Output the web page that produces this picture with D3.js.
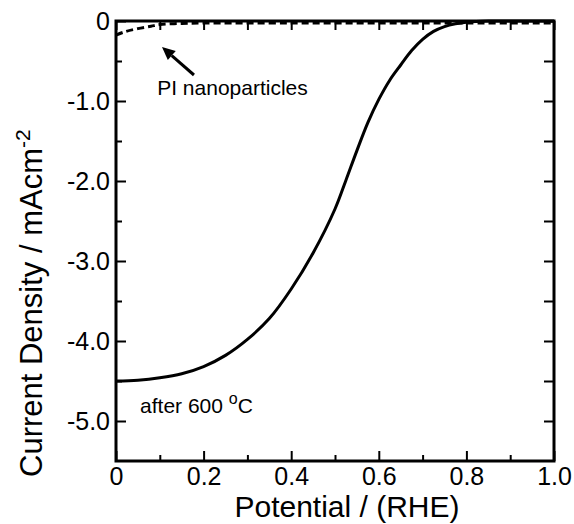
<!DOCTYPE html>
<html>
<head>
<meta charset="utf-8">
<script src="https://cdn.jsdelivr.net/npm/d3@7"></script>
<style>
	body { margin: 0; background: #fff; }
	text { font-family: "Liberation Sans", Arial, sans-serif; fill: #000; }
</style>
</head>
<body>
<svg id="chart" width="574" height="524"></svg>
<script>
// solid curve (after 600 C)
var potential = [0, 0.05, 0.1, 0.15, 0.2, 0.25, 0.3, 0.35, 0.4, 0.45, 0.5, 0.525, 0.55, 0.575, 0.6, 0.625, 0.65, 0.675, 0.7, 0.725, 0.75, 0.775, 0.8, 0.85, 0.9, 0.95, 1.0];
var currentAfter = [-4.5, -4.49, -4.46, -4.41, -4.32, -4.18, -3.98, -3.72, -3.35, -2.9, -2.35, -1.99, -1.62, -1.27, -0.98, -0.74, -0.55, -0.37, -0.23, -0.13, -0.07, -0.035, -0.015, 0, 0, 0, 0];

// dashed curve (PI nanoparticles)
var potentialPI = [0, 0.02, 0.05, 0.08, 0.1, 0.15, 0.2, 0.4, 0.6, 0.8, 1.0];
var currentPI = [-0.15, -0.11, -0.07, -0.04, -0.02, -0.005, 0, 0, 0, 0, 0];

var xMajor = [0, 0.2, 0.4, 0.6, 0.8, 1.0];
var xMajorLabels = ["0", "0.2", "0.4", "0.6", "0.8", "1.0"];
var xMinor = [0.1, 0.3, 0.5, 0.7, 0.9];
var yMajor = [0, -1, -2, -3, -4, -5];
var yMajorLabels = ["0", "-1.0", "-2.0", "-3.0", "-4.0", "-5.0"];
var yMinor = [-0.5, -1.5, -2.5, -3.5, -4.5];

var margin = {top: 21, right: 20, bottom: 63, left: 116};
var width = 574 - margin.left - margin.right;
var height = 524 - margin.top - margin.bottom;

var svg = d3.select("#chart");
var g = svg.append("g")
	.attr("transform", "translate(" + margin.left + "," + margin.top + ")");

var x = d3.scaleLinear().domain([0, 1.0]).range([0, width]);
var y = d3.scaleLinear().domain([-5.5, 0]).range([height, 0]);

function styleAxis(sel){
	sel.select(".domain").remove();
	sel.selectAll(".tick line").attr("stroke", "#000").attr("stroke-width", 2);
	sel.selectAll(".tick text")
		.style("font-family", "'Liberation Sans', Arial, sans-serif")
		.style("font-size", "25px")
		.attr("fill", "#000");
}

// bottom axis: labelled majors + short minors
g.append("g")
	.attr("transform", "translate(0," + height + ")")
	.call(d3.axisBottom(x).tickValues(xMajor).tickSize(-10).tickPadding(6)
		.tickFormat(function(d, i){ return xMajorLabels[i]; }))
	.call(styleAxis);
g.append("g")
	.attr("transform", "translate(0," + height + ")")
	.call(d3.axisBottom(x).tickValues(xMinor).tickSize(-6).tickFormat(""))
	.call(styleAxis);

// top axis
g.append("g")
	.call(d3.axisTop(x).tickValues(xMajor.concat(xMinor)).tickSize(-9).tickFormat(""))
	.call(styleAxis);

// left axis
g.append("g")
	.call(d3.axisLeft(y).tickValues(yMajor).tickSize(-10).tickPadding(6)
		.tickFormat(function(d, i){ return yMajorLabels[i]; }))
	.call(styleAxis);
g.append("g")
	.call(d3.axisLeft(y).tickValues(yMinor).tickSize(-6).tickFormat(""))
	.call(styleAxis);

// right axis
g.append("g")
	.attr("transform", "translate(" + width + ",0)")
	.call(d3.axisRight(y).tickValues(yMajor.concat(yMinor)).tickSize(-10).tickFormat(""))
	.call(styleAxis);

// curves
g.append("clipPath").attr("id", "plot-clip")
	.append("rect").attr("width", width).attr("height", height + 2).attr("y", -2);

var line = d3.line()
	.x(function(d){ return x(d[0]); })
	.y(function(d){ return y(d[1]); })
	.curve(d3.curveCatmullRom.alpha(0.5));

g.append("path")
	.datum(potential.map(function(p, i){ return [p, currentAfter[i]]; }))
	.attr("clip-path", "url(#plot-clip)")
	.attr("fill", "none")
	.attr("stroke", "#000")
	.attr("stroke-width", 3)
	.attr("d", line);

g.append("path")
	.datum(potentialPI.map(function(p, i){ return [p, currentPI[i]]; }))
	.attr("clip-path", "url(#plot-clip)")
	.attr("fill", "none")
	.attr("stroke", "#000")
	.attr("stroke-width", 3)
	.attr("stroke-dasharray", "7,4")
	.attr("transform", "translate(0,2)")
	.attr("d", line);

// frame
g.append("rect")
	.attr("width", width)
	.attr("height", height)
	.attr("fill", "none")
	.attr("stroke", "#000")
	.attr("stroke-width", 3);

// arrow annotation
var tip = [x(0.105), y(-0.325)];
var tail = [x(0.178), y(-0.675)];
var ang = Math.atan2(tip[1] - tail[1], tip[0] - tail[0]);
var headLen = 13, headW = 6;
var base = [tip[0] - headLen * Math.cos(ang), tip[1] - headLen * Math.sin(ang)];
g.append("line")
	.attr("x1", tail[0]).attr("y1", tail[1])
	.attr("x2", base[0]).attr("y2", base[1])
	.attr("stroke", "#000")
	.attr("stroke-width", 3);
g.append("path")
	.attr("d", "M" + tip[0] + "," + tip[1] +
		"L" + (base[0] + headW * Math.sin(ang)) + "," + (base[1] - headW * Math.cos(ang)) +
		"L" + (base[0] - headW * Math.sin(ang)) + "," + (base[1] + headW * Math.cos(ang)) + "Z")
	.attr("fill", "#000");

g.append("text")
	.attr("x", x(0.094))
	.attr("y", y(-0.925))
	.style("font-size", "21px")
	.text("PI nanoparticles");

var after = g.append("text")
	.attr("x", x(0.055))
	.attr("y", y(-4.9))
	.style("font-size", "21px");
after.append("tspan").text("after 600 ");
after.append("tspan").attr("dy", -9).style("font-size", "16px").text("o");
after.append("tspan").attr("dy", 9).text("C");

// axis titles
g.append("text")
	.attr("x", width / 2 + 12)
	.attr("y", height + 56)
	.attr("text-anchor", "middle")
	.style("font-size", "30px")
	.text("Potential / (RHE)");

// y title starts at the bottom, just below the -5.0 label
var yTitle = g.append("text")
	.attr("transform", "translate(" + (-74) + "," + 456 + ") rotate(-90)")
	.attr("text-anchor", "start")
	.style("font-size", "31px");
yTitle.append("tspan").text("Current Density / mAcm");
yTitle.append("tspan").attr("dy", -12).style("font-size", "21px").text("-2");
</script>
</body>
</html>
